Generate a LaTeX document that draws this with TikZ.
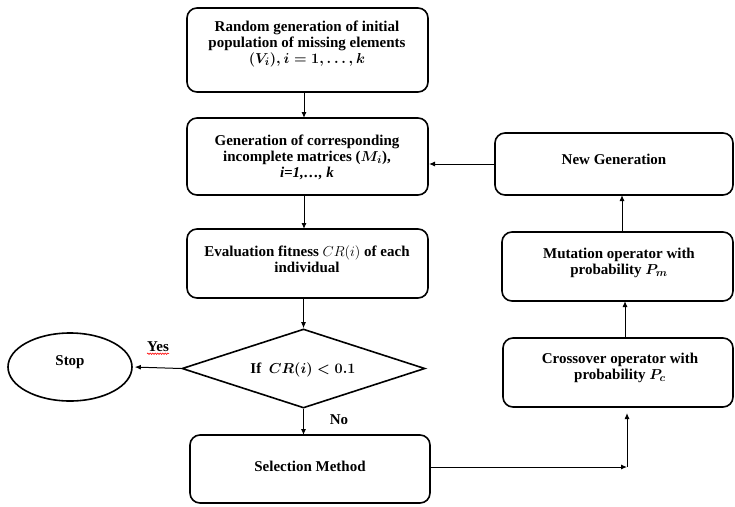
\documentclass[tikz,border=0pt]{standalone}
\usepackage{amsmath}
\usepackage{bm}
\usepackage{fontspec}
\setmainfont{Liberation Serif}
\usetikzlibrary{shapes.geometric,arrows.meta,calc,decorations.pathmorphing}
\begin{document}
\begin{tikzpicture}[x=1pt,y=-1pt,
 box/.style={draw, rounded corners=10pt, line width=1.6pt, inner sep=0pt, outer sep=0pt},
 txt/.style={align=center, inner sep=0pt, font=\bfseries\fontsize{15}{16}\selectfont},
 conn/.style={-{Latex[length=6pt,width=5pt]}, line width=1pt}]
\useasboundingbox (0,0) rectangle (735,506);

\node[box, minimum width=241pt, minimum height=84pt] (b1) at (307.5,50) {};
\node[txt] (t1) at (307,44) {Random generation of initial\\population of missing elements\\{\boldmath$(V_i), i = 1, \ldots, k$}};

\node[box, minimum width=241pt, minimum height=77pt] (b2) at (307.5,156.5) {};
\node[txt] (t2) at (307,157) {Generation of corresponding\\incomplete matrices ({\boldmath$M_i$}),\\\textit{i=1,…, k}};

\node[box, minimum width=241pt, minimum height=69pt] (b3) at (307.5,263.5) {};
\node[txt] (t3) at (307,259) {Evaluation fitness $CR(i)$ of each\\individual};

\node[draw, diamond, line width=1.6pt, minimum width=243pt, minimum height=79pt, inner sep=0pt] (d) at (303.5,368.5) {};
\node[txt] (td) at (303,370) {If~~{\boldmath$\bm{CR(i) < 0.1}$}};

\node[draw, ellipse, line width=1.6pt, minimum width=124pt, minimum height=68pt, inner sep=0pt] (stop) at (70,367) {};
\node[txt] (ts) at (70,362) {Stop};

\node[box, minimum width=240pt, minimum height=68pt] (sel) at (310,469) {};
\node[txt] (tsel) at (310,466) {Selection Method};

\node[box, minimum width=238pt, minimum height=62pt] (ng) at (614,164) {};
\node[txt] (tng) at (614,159) {New Generation};

\node[box, minimum width=231pt, minimum height=69pt] (mut) at (617.5,266.5) {};
\node[txt] (tmut) at (619,263) {Mutation operator with\\probability {\boldmath$P_m$}};

\node[box, minimum width=230pt, minimum height=69pt] (cro) at (618,372.5) {};
\node[txt] (tcro) at (620,368) {Crossover operator with\\probability {\boldmath$P_c$}};

\node[txt] (yes) at (158,347) {Yes};
\node[txt] (no) at (339,420) {No};
\draw[red, line width=0.6pt, decorate, decoration={snake, amplitude=0.7pt, segment length=2.5pt}] ([yshift=-1.5pt]yes.south west) -- ([yshift=-1.5pt]yes.south east);

\coordinate (corner) at (627,467);

\draw[conn] ([xshift=-3.5pt]b1.south) -- ([xshift=-3.5pt]b2.north);
\draw[conn] ([xshift=-3.5pt]b2.south) -- ([xshift=-3.5pt]b3.north);
\draw[conn] (b3.south -| d.north) -- (d.north);
\draw[conn] (d.south) -- (d.south |- sel.north);
\draw[conn, shorten >=2pt] (d.west) -- (stop.east);
\draw[conn, shorten >=1pt] (ng.west) -- (ng.west -| b2.east);
\draw[conn] ([xshift=4.5pt]mut.north) -- ([xshift=8pt]ng.south);
\draw[conn] ([xshift=7pt]cro.north) -- ([xshift=7.5pt]mut.south);
\draw[conn] (sel.east |- corner) -- (corner);
\draw[conn, shorten >=6pt] (corner) -- ([xshift=9pt]cro.south);
\end{tikzpicture}
\end{document}
